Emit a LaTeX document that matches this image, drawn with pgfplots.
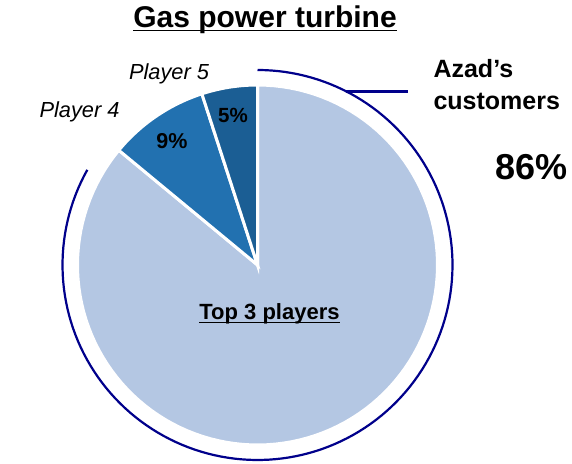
\documentclass[border=0pt]{standalone}
\usepackage{pgfplots}
\pgfplotsset{compat=1.18}
\usepackage{fontspec}
\setmainfont{Liberation Sans}
\definecolor{lightb}{RGB}{180,199,227}
\definecolor{midb}{RGB}{34,113,176}
\definecolor{darkb}{RGB}{27,94,148}
\definecolor{navyb}{RGB}{0,0,139}
\newcommand\ul[2]{\setbox0\hbox{#2}\rlap{\rule[-#1]{\wd0}{1.1pt}}\box0}
\begin{document}
\begin{tikzpicture}
\useasboundingbox (0,0) rectangle (572pt,463pt);
\begin{axis}[
  at={(0,0)}, anchor=south west,
  width=572pt, height=463pt, scale only axis,
  xmin=0, xmax=572, ymin=0, ymax=463,
  axis lines=none, clip=false,
]
% shares (%): Top 3 players 86, Player 4 9, Player 5 5 ; centre (257.5,198), r=180
\addplot[fill=lightb, draw=white, line width=3pt, domain=0:86, samples=120, variable=\t]
  ({257.5+180*cos(90-3.6*\t)}, {198+180*sin(90-3.6*\t)}) -- (axis cs:257.5,198) -- cycle;
\addplot[fill=midb, draw=white, line width=3pt, domain=86:95, samples=20, variable=\t]
  ({257.5+180*cos(90-3.6*\t)}, {198+180*sin(90-3.6*\t)}) -- (axis cs:257.5,198) -- cycle;
\addplot[fill=darkb, draw=white, line width=3pt, domain=95:100, samples=15, variable=\t]
  ({257.5+180*cos(90-3.6*\t)}, {198+180*sin(90-3.6*\t)}) -- (axis cs:257.5,198) -- cycle;
% outer bracket arc
\addplot[navyb, line width=2.2pt, domain=90:-209.2, samples=150, variable=\t]
  ({257.5+195*cos(\t)}, {198+195*sin(\t)});
\addplot[navyb, line width=2.4pt] coordinates {(346,371.5) (408,371.5)};
% texts
\node[anchor=base, font=\fontsize{30}{34}\selectfont\bfseries] at (axis cs:265,435) {\ul{3pt}{Gas power turbine}};
\node[anchor=base, font=\fontsize{21.8}{24}\selectfont\itshape] at (axis cs:169,383) {Player 5};
\node[anchor=base, font=\fontsize{21.8}{24}\selectfont\itshape] at (axis cs:79.5,345) {Player 4};
\node[font=\fontsize{20.5}{24}\selectfont\bfseries] at (axis cs:233,348) {5\%};
\node[font=\fontsize{21.5}{24}\selectfont\bfseries] at (axis cs:172,322) {9\%};
\node[anchor=base, font=\fontsize{22}{24}\selectfont\bfseries] at (axis cs:269.5,143) {\ul{3pt}{Top 3 players}};
\node[anchor=base west, font=\fontsize{25}{28}\selectfont\bfseries] at (axis cs:430,385) {Azad’s};
\node[anchor=base west, font=\fontsize{25}{28}\selectfont\bfseries] at (axis cs:430,353) {customers};
\node[anchor=base, font=\fontsize{36}{40}\selectfont\bfseries] at (axis cs:531.5,283) {86\%};
\end{axis}
\end{tikzpicture}
\end{document}
